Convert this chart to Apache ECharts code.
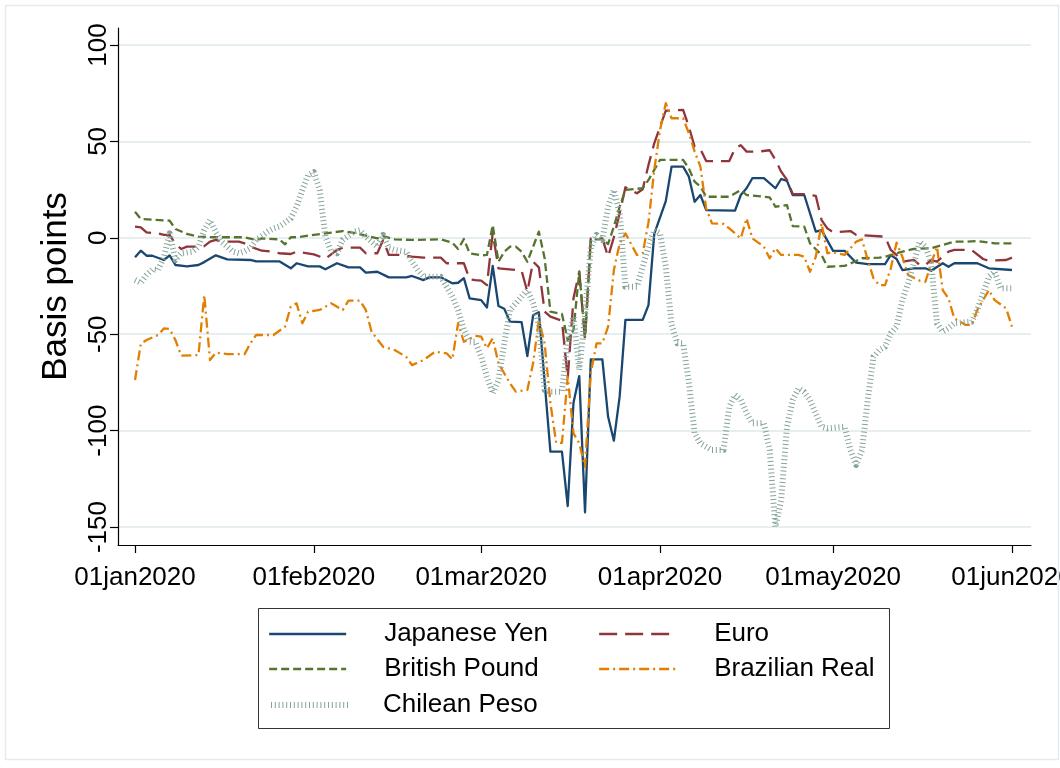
<!DOCTYPE html>
<html>
<head>
<meta charset="utf-8">
<script src="https://cdn.jsdelivr.net/npm/echarts@6/dist/echarts.min.js"></script>
<style>html,body{margin:0;padding:0;background:#fff;}#c{width:1060px;height:768px;}</style>
</head>
<body>
<div id="c"></div>
<script>
// ---- data (date, basis points) ----
const japaneseYen = [
['2020-01-01',-10.1],['2020-01-02',-6.7],['2020-01-03',-9.3],['2020-01-04',-9.3],['2020-01-06',-11.5],['2020-01-07',-9.1],
['2020-01-08',-14.1],['2020-01-10',-14.8],['2020-01-12',-14.1],['2020-01-13',-12.6],['2020-01-15',-9.1],['2020-01-17',-11.2],
['2020-01-21',-11.5],['2020-01-22',-12.2],['2020-01-26',-12.2],['2020-01-28',-15.8],['2020-01-29',-13.2],['2020-01-31',-14.8],
['2020-02-02',-14.8],['2020-02-03',-16.3],['2020-02-05',-13.2],['2020-02-07',-15.3],['2020-02-09',-15.3],['2020-02-10',-18.1],
['2020-02-12',-17.6],['2020-02-14',-20.5],['2020-02-17',-20.5],['2020-02-18',-19.8],['2020-02-20',-21.9],['2020-02-21',-20.5],
['2020-02-23',-20.5],['2020-02-25',-23.6],['2020-02-26',-23.3],['2020-02-27',-20.9],['2020-02-28',-31.4],['2020-03-01',-32.3],
['2020-03-02',-36.1],['2020-03-03',-14.6],['2020-03-04',-35.4],['2020-03-05',-36.8],['2020-03-06',-43.5],['2020-03-08',-43.7],
['2020-03-09',-61.3],['2020-03-10',-40.2],['2020-03-11',-38.6],['2020-03-13',-110.9],['2020-03-15',-110.9],['2020-03-16',-139.1],
['2020-03-17',-85.5],['2020-03-18',-71.7],['2020-03-19',-142.4],['2020-03-20',-63],['2020-03-22',-63],['2020-03-23',-92.8],
['2020-03-24',-105.2],['2020-03-25',-82.4],['2020-03-26',-42.6],['2020-03-29',-42.6],['2020-03-30',-34.9],['2020-03-31',2],
['2020-04-02',19],['2020-04-03',36.9],['2020-04-05',36.9],['2020-04-06',31.7],['2020-04-07',18.7],['2020-04-08',22.2],
['2020-04-09',14.4],['2020-04-14',14.1],['2020-04-15',22.2],['2020-04-16',25.7],['2020-04-17',30.9],['2020-04-19',30.9],
['2020-04-21',25.7],['2020-04-22',30.5],['2020-04-23',29.5],['2020-04-24',22.2],['2020-04-26',22.2],['2020-04-28',3.2],
['2020-04-29',4.0],['2020-05-01',-6.8],['2020-05-03',-6.8],['2020-05-05',-12.9],['2020-05-07',-13.6],['2020-05-10',-13.6],
['2020-05-11',-8.9],['2020-05-12',-11],['2020-05-13',-16.7],['2020-05-15',-15.8],['2020-05-17',-15.8],['2020-05-18',-17.1],
['2020-05-20',-13.2],['2020-05-21',-15],['2020-05-22',-13.2],['2020-05-26',-13.2],['2020-05-28',-15.8],['2020-06-01',-16.7]
];
const euro = [
['2020-01-01',5.8],['2020-01-02',5.4],['2020-01-03',2.8],['2020-01-05',2.3],['2020-01-06',1.5],['2020-01-07',1.5],
['2020-01-08',-3.2],['2020-01-09',-5.8],['2020-01-10',-4.6],['2020-01-11',-4.6],['2020-01-13',-4.3],['2020-01-14',-2.0],
['2020-01-15',-1.1],['2020-01-16',-2.0],['2020-01-19',-2.0],['2020-01-20',-2.9],['2020-01-21',-4.6],['2020-01-23',-6.7],
['2020-01-25',-7.2],['2020-01-26',-8.0],['2020-01-28',-8.4],['2020-01-29',-7.2],['2020-02-01',-8.6],['2020-02-03',-10.8],
['2020-02-05',-6.3],['2020-02-06',-5.1],['2020-02-09',-5.1],['2020-02-10',-8.0],['2020-02-12',-8.0],['2020-02-13',-1.1],
['2020-02-14',-8.9],['2020-02-16',-8.9],['2020-02-18',-9.8],['2020-02-20',-10.3],['2020-02-23',-10.3],['2020-02-24',-13.2],
['2020-02-27',-13.2],['2020-02-28',-21.5],['2020-02-29',-21.9],['2020-03-01',-22.2],['2020-03-02',-24.5],['2020-03-03',2.6],
['2020-03-04',-15.8],['2020-03-07',-16.7],['2020-03-08',-17.0],['2020-03-09',-28],['2020-03-10',-12.4],['2020-03-11',-15.3],
['2020-03-12',-38.3],['2020-03-13',-40.9],['2020-03-15',-43],['2020-03-16',-72.9],['2020-03-17',-31.4],['2020-03-18',-17.6],
['2020-03-19',-53],['2020-03-20',-0.3],['2020-03-22',-0.3],['2020-03-23',-9.8],['2020-03-24',0.3],['2020-03-25',12.7],
['2020-03-26',26.2],['2020-03-28',23.1],['2020-03-29',25.2],['2020-03-30',37.8],['2020-03-31',49],['2020-04-01',57.6],
['2020-04-02',65.9],['2020-04-05',66.3],['2020-04-06',57.6],['2020-04-07',47.2],['2020-04-08',45.9],['2020-04-09',39.8],
['2020-04-13',39.8],['2020-04-14',46.4],['2020-04-15',48],['2020-04-16',44.7],['2020-04-18',44.7],['2020-04-20',45.4],
['2020-04-21',40.4],['2020-04-22',34.3],['2020-04-23',30],['2020-04-24',22.7],['2020-04-26',22.7],['2020-04-28',21.8],
['2020-04-29',9.2],['2020-04-30',4.9],['2020-05-01',2.9],['2020-05-04',3.5],['2020-05-05',1.5],['2020-05-10',0.6],
['2020-05-11',-6.3],['2020-05-12',-8.9],['2020-05-13',-12.4],['2020-05-15',-11.5],['2020-05-16',-14.1],['2020-05-17',-14.1],
['2020-05-18',-11.5],['2020-05-19',-12.4],['2020-05-21',-7.2],['2020-05-22',-6.3],['2020-05-25',-6.3],['2020-05-27',-11],
['2020-05-28',-11.9],['2020-05-31',-11.5],['2020-06-01',-10.3]
];
const britishPound = [
['2020-01-01',13.5],['2020-01-02',9.8],['2020-01-07',8.9],['2020-01-08',4.6],['2020-01-10',2.0],['2020-01-12',0.6],
['2020-01-15',0.3],['2020-01-20',0.3],['2020-01-22',-1.1],['2020-01-23',-0.3],['2020-01-26',-0.8],['2020-01-27',-3.4],
['2020-01-28',0.3],['2020-01-29',0.3],['2020-02-01',1.5],['2020-02-03',2.3],['2020-02-06',3.5],['2020-02-08',2.6],
['2020-02-12',-0.3],['2020-02-13',0.9],['2020-02-15',-0.8],['2020-02-18',-1.1],['2020-02-23',-0.8],['2020-02-25',-2.5],
['2020-02-26',-5.8],['2020-02-27',-0.6],['2020-02-28',-8.0],['2020-03-01',-9.1],['2020-03-02',-8.9],['2020-03-03',6.6],
['2020-03-04',-12.4],['2020-03-05',-7.2],['2020-03-06',-4.6],['2020-03-07',-4.6],['2020-03-08',-7.2],['2020-03-09',-12.4],
['2020-03-10',-4.6],['2020-03-11',3.2],['2020-03-12',-10.6],['2020-03-13',-38.3],['2020-03-15',-39.5],['2020-03-16',-53],
['2020-03-17',-47.8],['2020-03-18',-17.6],['2020-03-19',-51.3],['2020-03-20',-0.8],['2020-03-22',-0.8],['2020-03-23',-3.2],
['2020-03-24',5.8],['2020-03-25',16.1],['2020-03-26',24.8],['2020-03-29',25.7],['2020-03-30',30],['2020-03-31',35.2],
['2020-04-01',40.4],['2020-04-05',40.4],['2020-04-06',36],['2020-04-07',29.1],['2020-04-08',26.5],['2020-04-09',21.3],
['2020-04-13',21.3],['2020-04-15',24.8],['2020-04-16',22.2],['2020-04-20',21.0],['2020-04-21',16.1],['2020-04-23',17.0],
['2020-04-24',6.1],['2020-04-26',5.8],['2020-04-27',-2.9],['2020-04-29',-8.9],['2020-04-30',-15.0],['2020-05-03',-14.6],
['2020-05-05',-12.0],['2020-05-06',-10.6],['2020-05-09',-10.3],['2020-05-10',-9.8],['2020-05-13',-7.2],['2020-05-15',-5.8],
['2020-05-18',-5.4],['2020-05-20',-3.7],['2020-05-22',-2.0],['2020-05-24',-2.0],['2020-05-26',-1.7],['2020-05-29',-2.9],
['2020-06-01',-2.9]
];
const brazilianReal = [
['2020-01-01',-73.8],['2020-01-02',-55],['2020-01-03',-53],['2020-01-05',-50.4],['2020-01-06',-47],['2020-01-07',-47.3],
['2020-01-08',-53],['2020-01-09',-61.1],['2020-01-12',-60.8],['2020-01-13',-29.7],['2020-01-14',-63.4],['2020-01-15',-59.6],
['2020-01-17',-60.3],['2020-01-20',-60.3],['2020-01-21',-54.7],['2020-01-22',-50.4],['2020-01-25',-50.4],['2020-01-27',-46.1],
['2020-01-28',-35.7],['2020-01-29',-34.0],['2020-01-30',-44.3],['2020-01-31',-38.3],['2020-02-02',-37.4],['2020-02-04',-34.0],
['2020-02-06',-37.4],['2020-02-07',-32.6],['2020-02-09',-32.6],['2020-02-10',-37.4],['2020-02-11',-48.7],['2020-02-13',-56.5],
['2020-02-15',-58.2],['2020-02-17',-61.7],['2020-02-18',-66.0],['2020-02-20',-63.4],['2020-02-22',-59.1],['2020-02-24',-59.9],
['2020-02-25',-63.0],['2020-02-26',-44.3],['2020-02-27',-53.9],['2020-02-29',-50.9],['2020-03-01',-51.3],['2020-03-02',-57.3],
['2020-03-03',-52.1],['2020-03-04',-65.1],['2020-03-06',-75.5],['2020-03-07',-79.8],['2020-03-09',-78.9],['2020-03-10',-65.1],
['2020-03-11',-42.6],['2020-03-12',-54.7],['2020-03-13',-85.8],['2020-03-14',-106.3],['2020-03-15',-106.3],['2020-03-16',-72],
['2020-03-17',-101.4],['2020-03-18',-106.6],['2020-03-19',-118.7],['2020-03-20',-70],['2020-03-21',-54.7],['2020-03-22',-54.7],
['2020-03-23',-46.1],['2020-03-24',-16.7],['2020-03-25',-2.9],['2020-03-26',2.3],['2020-03-28',-8.9],['2020-03-29',-8.0],
['2020-03-30',8],['2020-03-31',35.2],['2020-04-01',55.9],['2020-04-02',69.8],['2020-04-03',62],['2020-04-05',62],
['2020-04-06',54.2],['2020-04-07',44.7],['2020-04-08',36.9],['2020-04-09',15.3],['2020-04-10',7.5],['2020-04-12',7.2],
['2020-04-13',4.9],['2020-04-15',-0.3],['2020-04-16',10.1],['2020-04-17',-0.3],['2020-04-19',-4.6],['2020-04-20',-10.6],
['2020-04-21',-5.4],['2020-04-22',-8.9],['2020-04-25',-8.9],['2020-04-26',-9.8],['2020-04-27',-17.6],['2020-04-28',-9.8],
['2020-04-29',7.5],['2020-04-30',-8.0],['2020-05-01',-7.5],['2020-05-03',-8.9],['2020-05-05',-2.0],['2020-05-06',-0.8],
['2020-05-07',-11.5],['2020-05-08',-21],['2020-05-09',-24.5],['2020-05-10',-24.5],['2020-05-11',-15.8],['2020-05-12',-2.5],
['2020-05-13',-9.8],['2020-05-14',-19.3],['2020-05-16',-22.2],['2020-05-17',-22.8],['2020-05-18',-13.2],['2020-05-19',-4.6],
['2020-05-20',-27.1],['2020-05-21',-31.4],['2020-05-22',-41.8],['2020-05-24',-45.2],['2020-05-25',-45.2],['2020-05-26',-37.4],
['2020-05-28',-27.1],['2020-05-29',-32.3],['2020-05-31',-36.6],['2020-06-01',-46.1]
];
const chileanPeso = [
['2020-01-01',-21.9],['2020-01-02',-23.3],['2020-01-03',-19.3],['2020-01-04',-16.3],['2020-01-05',-16.7],['2020-01-06',-10],
['2020-01-07',2.3],['2020-01-08',-11.5],['2020-01-09',-8.0],['2020-01-11',-7.2],['2020-01-12',-4.6],['2020-01-13',4.0],
['2020-01-14',9.2],['2020-01-15',3],['2020-01-16',-2.0],['2020-01-18',-7.2],['2020-01-19',-8.0],['2020-01-20',-7],
['2020-01-21',-5.4],['2020-01-22',-1.1],['2020-01-24',3.2],['2020-01-25',4.9],['2020-01-26',5.8],['2020-01-28',10.1],
['2020-01-29',16.1],['2020-01-30',24.8],['2020-01-31',32.6],['2020-02-01',34],['2020-02-02',24.8],['2020-02-03',0.6],
['2020-02-04',-7.2],['2020-02-05',-8.0],['2020-02-06',-1.1],['2020-02-08',3.2],['2020-02-09',4.0],['2020-02-10',0.6],
['2020-02-12',-4.6],['2020-02-13',1.5],['2020-02-14',-5.4],['2020-02-15',-6.3],['2020-02-17',-7.2],['2020-02-18',-12.4],
['2020-02-19',-16.7],['2020-02-20',-20.2],['2020-02-23',-20.2],['2020-02-24',-25.4],['2020-02-25',-30.5],['2020-02-26',-37.4],
['2020-02-27',-47.8],['2020-02-28',-53.9],['2020-02-29',-53.9],['2020-03-01',-61.7],['2020-03-02',-72],['2020-03-03',-80.7],
['2020-03-04',-73.9],['2020-03-05',-54.7],['2020-03-06',-37.4],['2020-03-07',-34],['2020-03-08',-30.5],['2020-03-09',-27.1],
['2020-03-10',-34],['2020-03-11',-45],['2020-03-12',-78.9],['2020-03-13',-79.8],['2020-03-15',-79.8],['2020-03-16',-53],
['2020-03-17',-40.9],['2020-03-18',-68.6],['2020-03-19',-40],['2020-03-20',-5],['2020-03-21',1.5],['2020-03-22',-1.1],
['2020-03-23',16.1],['2020-03-24',24.8],['2020-03-25',12.7],['2020-03-26',-25.4],['2020-03-28',-25.4],['2020-03-29',-15],
['2020-03-30',-4.6],['2020-03-31',4.0],['2020-04-01',2.3],['2020-04-02',-15],['2020-04-03',-45],['2020-04-04',-54.7],
['2020-04-05',-54.7],['2020-04-06',-75],['2020-04-07',-101.4],['2020-04-08',-106.6],['2020-04-10',-110.1],['2020-04-12',-110.1],
['2020-04-13',-87.6],['2020-04-14',-81.5],['2020-04-15',-84.1],['2020-04-16',-91],['2020-04-17',-96.2],['2020-04-19',-96.2],
['2020-04-20',-110],['2020-04-21',-149.8],['2020-04-22',-136],['2020-04-23',-98],['2020-04-24',-84.1],['2020-04-25',-78.1],
['2020-04-26',-80],['2020-04-27',-84.1],['2020-04-28',-91],['2020-04-29',-98],['2020-04-30',-98.8],['2020-05-03',-98],
['2020-05-04',-110],['2020-05-05',-117.8],['2020-05-06',-110.1],['2020-05-07',-84.1],['2020-05-08',-61.7],['2020-05-09',-58.2],
['2020-05-10',-56.5],['2020-05-11',-49.5],['2020-05-12',-46.1],['2020-05-13',-32.3],['2020-05-14',-23.6],['2020-05-15',-13.2],
['2020-05-16',-2.0],['2020-05-17',-4.6],['2020-05-18',-13.2],['2020-05-19',-44.3],['2020-05-20',-48.7],['2020-05-21',-46.9],
['2020-05-22',-44.3],['2020-05-25',-43.5],['2020-05-26',-37.4],['2020-05-27',-28.8],['2020-05-28',-20.2],['2020-05-29',-17.6],
['2020-05-30',-26.2],['2020-06-01',-26.2]
];
const seriesNames = ['Japanese Yen','Euro','British Pound','Brazilian Real','Chilean Peso'];
const xTickDates = ['2020-01-01','2020-02-01','2020-03-01','2020-04-01','2020-05-01','2020-06-01'];
const yTicks = [-150,-100,-50,0,50,100];
const yAxisTitle = 'Basis points';
const monthAbbr = ['jan','feb','mar','apr','may','jun','jul','aug','sep','oct','nov','dec'];

function ts(s){const p=s.split('-').map(Number);return new Date(p[0],p[1]-1,p[2]).getTime();}
function toData(arr){return arr.map(d=>[ts(d[0]),d[1]]);}
const DAY=86400000;
const t0=ts('2020-01-01');

const chart = echarts.init(document.getElementById('c'), null, {renderer:'canvas'});
const FONT='"Liberation Sans", Arial, Helvetica, sans-serif';
// legend item placement: [left, top, text indent]
const legendPos = [[268,619,33],[598,619,33],[268,654,33],[598,654,33],[268,690,30]];
const styles = [
  {color:'#1a476f', type:'solid', width:2.3},
  {color:'#90353b', type:[18,8], width:2.3},
  {color:'#55752f', type:[8,4], width:2.3},
  {color:'#e37e00', type:[10,4,2,4], width:2.3},
  {color:'#86a39a', type:[1,2.8], width:6}
];
const dataSets=[japaneseYen,euro,britishPound,brazilianReal,chileanPeso];

chart.setOption({
  animation:false,
  backgroundColor:'#fff',
  textStyle:{fontFamily:FONT},
  grid:{left:118,right:29,top:28,bottom:223,containLabel:false,outerBoundsMode:'none'},
  xAxis:{
    type:'value', min:t0-2.95*DAY, max:t0+155.3*DAY, scale:true,
    axisLine:{show:true,onZero:false,lineStyle:{color:'#000',width:1.2}},
    axisTick:{show:true,length:8,lineStyle:{color:'#000',width:1.2},customValues:xTickDates.map(ts)},
    axisLabel:{show:true,margin:20,fontSize:26,color:'#000',fontFamily:FONT,customValues:xTickDates.map(ts),
      formatter:function(v){const d=new Date(v);const dd=('0'+d.getDate()).slice(-2);return dd+monthAbbr[d.getMonth()]+d.getFullYear();}},
    splitLine:{show:false}
  },
  yAxis:{
    type:'value', min:-159.3, max:108.8,
    name:yAxisTitle, nameLocation:'middle', nameRotate:90, nameGap:44,
    nameTextStyle:{fontSize:35,color:'#000',fontFamily:FONT},
    axisLine:{show:true,onZero:false,lineStyle:{color:'#000',width:1.2}},
    axisTick:{show:true,length:8,lineStyle:{color:'#000',width:1.2},customValues:yTicks},
    axisLabel:{show:true,rotate:90,margin:6,fontSize:26,color:'#000',fontFamily:FONT,customValues:yTicks},
    splitLine:{show:true,lineStyle:{color:'#e6eef0',width:2}}
  },
  legend:seriesNames.map((n,i)=>({
    orient:'horizontal', left:legendPos[i][0], top:legendPos[i][1], padding:0,
    itemWidth:77, itemHeight:14, data:[n], selectedMode:false,
    itemStyle:{opacity:0},
    lineStyle:{width:styles[i].width,type:styles[i].type,color:styles[i].color,cap:'butt'},
    textStyle:{fontFamily:FONT,fontSize:26,lineHeight:30,color:'#000',padding:[0,0,0,legendPos[i][2]]}
  })),
  graphic:[
    {type:'rect',left:256,top:606,shape:{width:631,height:120},style:{fill:'none',stroke:'#333',lineWidth:1},silent:true},
    {type:'rect',left:3,top:3,shape:{width:1053,height:754},style:{fill:'none',stroke:'#e3ebee',lineWidth:1.5},silent:true}
  ],
  series:seriesNames.map((n,i)=>({
    name:n, type:'line', data:toData(dataSets[i]), symbol:'none', showSymbol:false,
    lineStyle:{color:styles[i].color,type:styles[i].type,width:styles[i].width,cap:'butt',join:'round'},
    itemStyle:{color:styles[i].color},
    emphasis:{disabled:true}
  }))
});
</script>
</body>
</html>
